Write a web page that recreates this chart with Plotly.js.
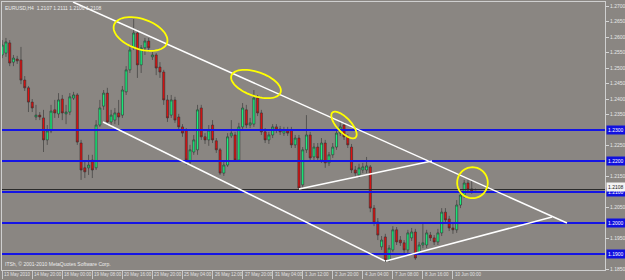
<!DOCTYPE html>
<html><head><meta charset="utf-8">
<script src="https://cdn.plot.ly/plotly-3.0.1.min.js"></script>
<style>html,body{margin:0;padding:0;background:#8a8682;}#chart{width:625px;height:280px;}</style>
</head><body><div id="chart"></div>
<script>
const symbolTitle = "EURUSD,H4  1.2107 1.2111 1.2106 1.2108";
const copyright = "ITSh, \u00a9 2001-2010 MetaQuotes Software Corp.";

const open = [
1.2542,1.2548,1.2581,1.2519,1.2529,1.2526,1.2461,1.2436,1.2390,1.2342,
1.2348,1.2339,1.2268,1.2297,1.2365,1.2352,1.2400,1.2352,1.2358,1.2403,
1.2413,1.2258,1.2178,1.2178,1.2203,1.2178,1.2316,1.2377,1.2419,1.2326,
1.2332,1.2355,1.2348,1.2423,1.2494,1.2565,1.2613,1.2510,1.2565,1.2587,
1.2536,1.2542,1.2503,1.2487,1.2397,1.2348,1.2397,1.2342,1.2310,1.2300,
1.2197,1.2229,1.2236,1.2371,1.2278,1.2268,1.2316,1.2265,1.2236,1.2161,
1.2187,1.2281,1.2284,1.2203,1.2310,1.2365,1.2316,1.2319,1.2403,1.2355,
1.2294,1.2268,1.2284,1.2310,1.2303,1.2290,1.2300,1.2300,1.2252,1.2274,
1.2123,1.2236,1.2284,1.2213,1.2245,1.2203,1.2258,1.2194,1.2220,1.2245,
1.2290,1.2316,1.2278,1.2245,1.2171,1.2155,1.2171,1.2171,1.2181,1.2048,
1.2003,1.1923,1.1955,1.1881,1.1913,1.1978,1.1945,1.1936,1.1913,1.1952,
1.1971,1.1906,1.1929,1.1929,1.1961,1.1952,1.1939,1.1968,1.2035,1.2013,
1.1984,1.1978,1.2058,1.2090,1.2129,1.2110,1.2107];
const high = [
1.2590,1.2597,1.2590,1.2542,1.2539,1.2568,1.2474,1.2442,1.2400,1.2381,
1.2358,1.2365,1.2316,1.2381,1.2397,1.2419,1.2413,1.2381,1.2419,1.2423,
1.2419,1.2268,1.2203,1.2220,1.2220,1.2332,1.2397,1.2429,1.2436,1.2365,
1.2371,1.2397,1.2442,1.2506,1.2574,1.2658,1.2623,1.2574,1.2597,1.2597,
1.2552,1.2548,1.2519,1.2494,1.2413,1.2413,1.2407,1.2352,1.2319,1.2306,
1.2252,1.2284,1.2381,1.2381,1.2290,1.2316,1.2332,1.2274,1.2242,1.2203,
1.2290,1.2332,1.2294,1.2323,1.2387,1.2381,1.2339,1.2429,1.2413,1.2365,
1.2306,1.2294,1.2319,1.2319,1.2313,1.2310,1.2310,1.2310,1.2284,1.2284,
1.2245,1.2348,1.2294,1.2258,1.2258,1.2274,1.2268,1.2229,1.2258,1.2300,
1.2326,1.2326,1.2287,1.2255,1.2184,1.2191,1.2194,1.2213,1.2187,1.2058,
1.2016,1.1958,1.1965,1.1929,1.1990,1.1987,1.1958,1.1945,1.1978,1.1984,
1.1981,1.1939,1.2003,1.1978,1.1971,1.1961,1.1981,1.2048,1.2048,1.2023,
1.1997,1.2074,1.2107,1.2139,1.2139,1.2139,1.2111];
const low = [
1.2532,1.2536,1.2506,1.2506,1.2513,1.2448,1.2426,1.2358,1.2358,1.2332,
1.2332,1.2229,1.2252,1.2290,1.2339,1.2339,1.2332,1.2319,1.2348,1.2397,
1.2252,1.2139,1.2145,1.2155,1.2145,1.2171,1.2310,1.2365,1.2316,1.2313,
1.2319,1.2316,1.2339,1.2413,1.2484,1.2558,1.2468,1.2484,1.2542,1.2552,
1.2526,1.2477,1.2468,1.2381,1.2326,1.2339,1.2323,1.2300,1.2278,1.2187,
1.2187,1.2220,1.2220,1.2268,1.2255,1.2249,1.2258,1.2226,1.2155,1.2152,
1.2181,1.2274,1.2197,1.2197,1.2300,1.2306,1.2306,1.2310,1.2345,1.2284,
1.2258,1.2255,1.2274,1.2290,1.2284,1.2281,1.2281,1.2242,1.2242,1.2107,
1.2113,1.2226,1.2200,1.2203,1.2197,1.2194,1.2178,1.2184,1.2210,1.2236,
1.2281,1.2268,1.2242,1.2161,1.2149,1.2145,1.2161,1.2161,1.2035,1.1990,
1.1945,1.1913,1.1874,1.1874,1.1906,1.1929,1.1926,1.1903,1.1903,1.1942,
1.1881,1.1897,1.1919,1.1919,1.1942,1.1929,1.1929,1.1958,1.2000,1.1974,
1.1965,1.1968,1.2048,1.2081,1.2097,1.2094,1.2106];
const close = [
1.2574,1.2584,1.2516,1.2532,1.2523,1.2461,1.2436,1.2390,1.2371,1.2348,
1.2342,1.2268,1.2297,1.2361,1.2355,1.2397,1.2355,1.2358,1.2407,1.2413,
1.2261,1.2171,1.2165,1.2187,1.2171,1.2316,1.2371,1.2419,1.2326,1.2348,
1.2355,1.2342,1.2429,1.2494,1.2558,1.2613,1.2510,1.2565,1.2587,1.2565,
1.2542,1.2500,1.2487,1.2397,1.2339,1.2397,1.2332,1.2310,1.2290,1.2203,
1.2236,1.2268,1.2365,1.2278,1.2268,1.2300,1.2268,1.2236,1.2161,1.2187,
1.2278,1.2290,1.2203,1.2310,1.2371,1.2316,1.2323,1.2403,1.2355,1.2294,
1.2268,1.2284,1.2310,1.2300,1.2294,1.2300,1.2290,1.2252,1.2274,1.2113,
1.2236,1.2284,1.2210,1.2245,1.2210,1.2258,1.2194,1.2220,1.2245,1.2290,
1.2310,1.2278,1.2252,1.2171,1.2161,1.2178,1.2181,1.2184,1.2048,1.2000,
1.1961,1.1945,1.1881,1.1919,1.1978,1.1939,1.1936,1.1913,1.1968,1.1971,
1.1887,1.1929,1.1936,1.1968,1.1952,1.1939,1.1968,1.2035,1.2010,1.1984,
1.1978,1.2058,1.2090,1.2129,1.2107,1.2103,1.2108];

const tickBars = [0,8,16,24,32,40,48,56,64,72,80,88,96,104,112,120];
const tickLabels = ["13 May 2010","14 May 20:00","18 May 00:00","19 May 08:00","20 May 16:00","23 May 20:00","25 May 04:00","26 May 12:00","27 May 20:00","31 May 04:00","1 Jun 12:00","2 Jun 20:00","4 Jun 04:00","7 Jun 08:00","8 Jun 16:00","10 Jun 00:00"];
const priceTicks = [1.2700,1.2650,1.2600,1.2550,1.2500,1.2450,1.2400,1.2350,1.2250,1.2150,1.2050,1.1950,1.1850];
const levelPrices = [1.2300,1.2200,1.2100,1.2000,1.1900];
const currentPrice = 1.2108;
// trend lines: [bar0, price0, bar1, price1]
const trendLines = [
  [18.85,1.27129,150.36,1.2000],
  [26.84,1.23258,101.91,1.18774],
  [79.02,1.21097,114.42,1.2200],
  [102.18,1.18774,146.37,1.20194]
];
// highlight ellipses: [bar, price, radiusA(px), radiusB(px), angle(deg)]
const ellipses = [
  [36.83,1.26097,28,15,19],
  [67.57,1.24484,26,12,19],
  [91.0,1.23162,17,7,47],
  [125.2,1.21300,15.3,15.5,0]
];

const bars = open.map((_, i) => i);
const xr = [-0.05, 160.48], yr = [1.18484, 1.27129];
const plotW = 603, plotH = 268;
const bpx = (xr[1]-xr[0])/plotW, ppx = (yr[1]-yr[0])/plotH;
function ellipsePath(cx, cy, a, b, deg){
  const t = deg*Math.PI/180, pts = [];
  for (let k=0;k<=60;k++){
    const u = 2*Math.PI*k/60;
    const dx = a*Math.cos(u)*Math.cos(t) - b*Math.sin(u)*Math.sin(t);
    const dy = a*Math.cos(u)*Math.sin(t) + b*Math.sin(u)*Math.cos(t);
    pts.push((cx+dx*bpx).toFixed(4)+','+(cy-dy*ppx).toFixed(6));
  }
  return 'M'+pts.join('L')+'Z';
}

const bg = '#8a8682';
const FONT = 'Liberation Sans, Arial';
const shapes = [];
levelPrices.forEach(p => shapes.push({type:'line', xref:'paper', yref:'y', x0:0, x1:1, y0:p, y1:p, line:{color:'#1414e4', width:2}, layer:'above'}));
shapes.push({type:'line', xref:'paper', yref:'y', x0:0, x1:1, y0:currentPrice, y1:currentPrice, line:{color:'#2a2a2a', width:1}, layer:'above'});
trendLines.forEach(t => shapes.push({type:'line', xref:'x', yref:'y', x0:t[0], y0:t[1], x1:t[2], y1:t[3], line:{color:'#ffffff', width:1.5}, layer:'above'}));
ellipses.forEach(e => shapes.push({type:'path', xref:'x', yref:'y', path:ellipsePath(e[0],e[1],e[2],e[3],e[4]), line:{color:'#ffff00', width:1.8}, fillcolor:'rgba(0,0,0,0)', layer:'above'}));

const annotations = [];
levelPrices.forEach(p => annotations.push({xref:'paper', yref:'y', x:1, y:p, xanchor:'left', yanchor:'middle', xshift:1, text:p.toFixed(4), showarrow:false, bgcolor:'#1010e0', borderpad:1, font:{family:FONT, size:5, color:'#ffffff'}}));
annotations.push({xref:'paper', yref:'y', x:1, y:currentPrice, xanchor:'left', yanchor:'middle', xshift:1, yshift:3, text:currentPrice.toFixed(4), showarrow:false, bgcolor:'#f4f4f4', borderpad:1, font:{family:FONT, size:5, color:'#202020'}});
annotations.push({xref:'paper', yref:'paper', x:0, y:1, xanchor:'left', yanchor:'top', xshift:1, yshift:-1, text:symbolTitle, showarrow:false, font:{family:FONT, size:5, color:'#ececec'}});
annotations.push({xref:'paper', yref:'paper', x:0, y:0, xanchor:'left', yanchor:'bottom', xshift:1, yshift:1, text:copyright, showarrow:false, font:{family:FONT, size:5, color:'#ececec'}});
tickBars.forEach((b, i) => annotations.push({xref:'x', yref:'paper', x:b, y:0, xanchor:'left', yanchor:'top', xshift:1, yshift:-1, text:tickLabels[i], showarrow:false, borderpad:0, font:{family:FONT, size:4.5, color:'#e2e2e2'}}));

const trace = {
  type:'candlestick', x:bars, open:open, high:high, low:low, close:close,
  increasing:{line:{color:'#333333', width:0.6}, fillcolor:'#18f07c'},
  decreasing:{line:{color:'#333333', width:0.6}, fillcolor:'#e01010'},
  whiskerwidth:0, hoverinfo:'skip', showlegend:false
};

const layout = {
  width:625, height:280,
  margin:{l:2, r:20, t:2, b:10, pad:0},
  paper_bgcolor:bg, plot_bgcolor:bg,
  showlegend:false, boxgap:0.2,
  font:{family:FONT, size:5, color:'#e6e6e6'},
  xaxis:{range:xr, tickmode:'array', tickvals:tickBars, ticktext:tickLabels, showticklabels:false, ticks:'outside', ticklen:8, tickcolor:'#c8c8c8',
    showgrid:false, zeroline:false, showline:true, linecolor:'#cfcfcf', linewidth:1, mirror:true, rangeslider:{visible:false}, fixedrange:true},
  yaxis:{side:'right', range:yr, tickmode:'array', tickvals:priceTicks, tickformat:'.4f', ticks:'outside', ticklen:3, tickcolor:'#d4d4d4',
    tickfont:{size:5, color:'#e6e6e6'}, showgrid:false, zeroline:false, showline:true, linecolor:'#cfcfcf', linewidth:1, mirror:true, fixedrange:true},
  shapes:shapes, annotations:annotations
};
Plotly.newPlot('chart', [trace], layout, {displayModeBar:false, staticPlot:true});
</script>
</body></html>
